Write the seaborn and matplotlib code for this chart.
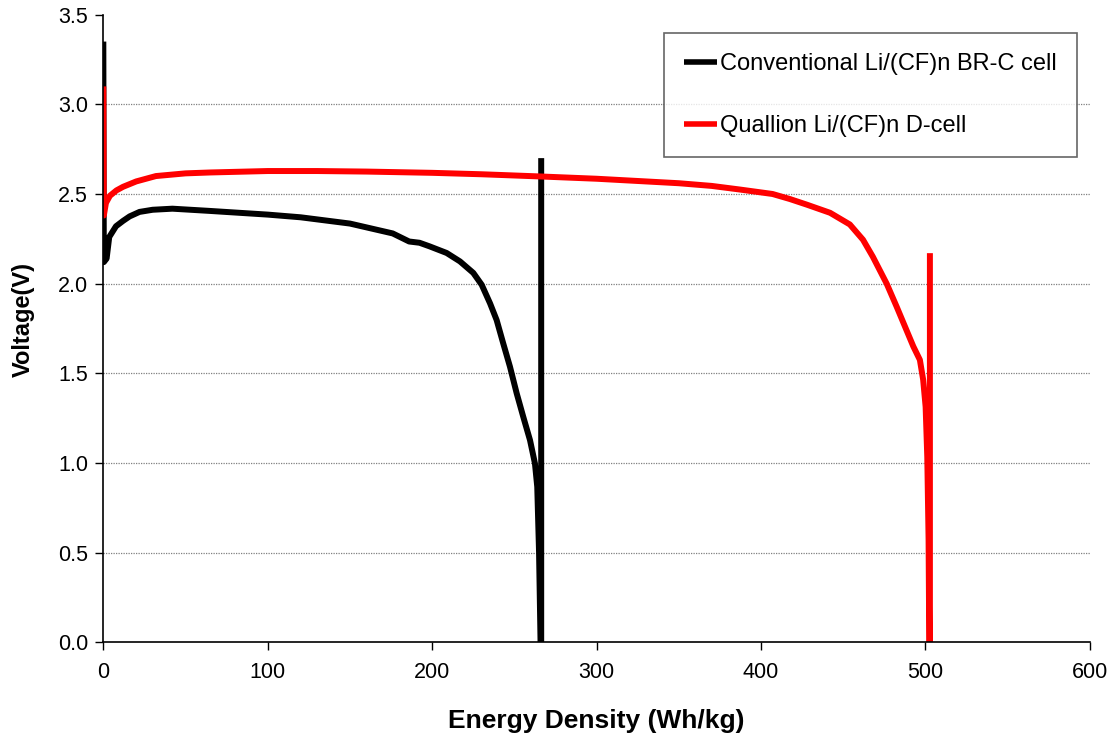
import matplotlib
matplotlib.use("Agg")
import matplotlib.pyplot as plt
import seaborn as sns
import pandas as pd

# Discharge curves: energy density (Wh/kg) vs. cell voltage (V)
conv_label = "Conventional Li/(CF)n BR-C cell"
conv_energy = [0.0, 0.3, 2.0, 3.6, 7.7, 12, 16, 22, 30, 42, 64, 100, 120, 150, 176,
               186, 192.3, 198.4, 208.8, 216.9, 225.0, 230.1, 235.2, 239.2, 243.2,
               247.3, 251.4, 255.4, 259.5, 262.5, 263.9, 265.0, 265.9, 266.3, 266.3]
conv_voltage = [3.35, 2.12, 2.14, 2.26, 2.32, 2.35, 2.375, 2.40, 2.412, 2.418, 2.406,
                2.385, 2.37, 2.335, 2.28, 2.235, 2.228, 2.208, 2.171, 2.124, 2.06,
                1.994, 1.89, 1.797, 1.667, 1.537, 1.388, 1.257, 1.127, 0.997, 0.867,
                0.50, 0.0, 0.0, 2.70]

qual_label = "Quallion Li/(CF)n D-cell"
qual_energy = [0.0, 0.3, 1.6, 4, 8, 12, 20, 32, 50, 65, 100, 130, 160, 200, 230,
               265, 300, 330, 350, 370, 387, 407, 417.5, 428, 442, 454, 462, 468,
               476.4, 482.5, 492.6, 496.6, 498.6, 500.1, 501.1, 501.9, 502.3,
               502.7, 502.7]
qual_voltage = [3.10, 2.38, 2.45, 2.49, 2.52, 2.54, 2.57, 2.60, 2.615, 2.62, 2.628,
                2.628, 2.625, 2.618, 2.61, 2.598, 2.585, 2.57, 2.56, 2.545, 2.525,
                2.50, 2.472, 2.44, 2.395, 2.33, 2.245, 2.15, 2.0, 1.871, 1.65,
                1.575, 1.464, 1.313, 1.034, 0.571, 0.0, 0.0, 2.17]

df = pd.DataFrame({
    "energy": conv_energy + qual_energy,
    "voltage": conv_voltage + qual_voltage,
    "cell": [conv_label] * len(conv_energy) + [qual_label] * len(qual_energy),
})

sns.set_style("white")
plt.rcParams["font.family"] = ["Liberation Sans", "DejaVu Sans"]
plt.rcParams["text.color"] = "black"
plt.rcParams["axes.labelcolor"] = "black"
plt.rcParams["xtick.color"] = "black"
plt.rcParams["ytick.color"] = "black"
plt.rcParams["lines.solid_capstyle"] = "butt"
plt.rcParams["lines.solid_joinstyle"] = "round"

fig = plt.figure(figsize=(11.11, 7.34), dpi=100)
ax = fig.add_axes([0.093, 0.125, 0.888, 0.855])

sns.lineplot(data=df, x="energy", y="voltage", hue="cell", sort=False,
             estimator=None, palette={conv_label: "#000000", qual_label: "#ff0000"},
             linewidth=4.3, ax=ax, legend=True)

ax.set_xlim(0, 600)
ax.set_ylim(0, 3.5)
ax.set_xticks(range(0, 601, 100))
ax.set_yticks([i * 0.5 for i in range(8)])
ax.set_yticklabels([f"{i * 0.5:.1f}" for i in range(8)])
ax.tick_params(axis="both", labelsize=15.5, direction="out", length=6, width=1,
               color="black", left=True, bottom=True)
ax.tick_params(axis="x", pad=8)
ax.tick_params(axis="y", pad=5)

for y in [0.5, 1.0, 1.5, 2.0, 2.5, 3.0]:
    ax.axhline(y, color="#808080", linestyle=(0, (1, 1)), linewidth=0.9, zorder=0)

for side in ["top", "right"]:
    ax.spines[side].set_visible(False)
for side in ["left", "bottom"]:
    ax.spines[side].set_color("black")
    ax.spines[side].set_linewidth(1.2)

ax.set_xlabel("Energy Density (Wh/kg)", fontsize=19, fontweight="bold", labelpad=19)
ax.set_ylabel("Voltage(V)", fontsize=17, fontweight="bold")
ax.yaxis.set_label_coords(-0.069, 0.514)

leg = ax.legend(loc="upper right", bbox_to_anchor=(0.9694, 0.955),
                bbox_transform=fig.transFigure, fontsize=17, frameon=True,
                fancybox=False, edgecolor="#404040", handlelength=1.4,
                handletextpad=0.15, labelspacing=1.68, borderpad=0.85,
                borderaxespad=0)
leg.get_frame().set_linewidth(1.2)
for line in leg.get_lines():
    line.set_linewidth(4)

fig.savefig("out.png", dpi=100)
